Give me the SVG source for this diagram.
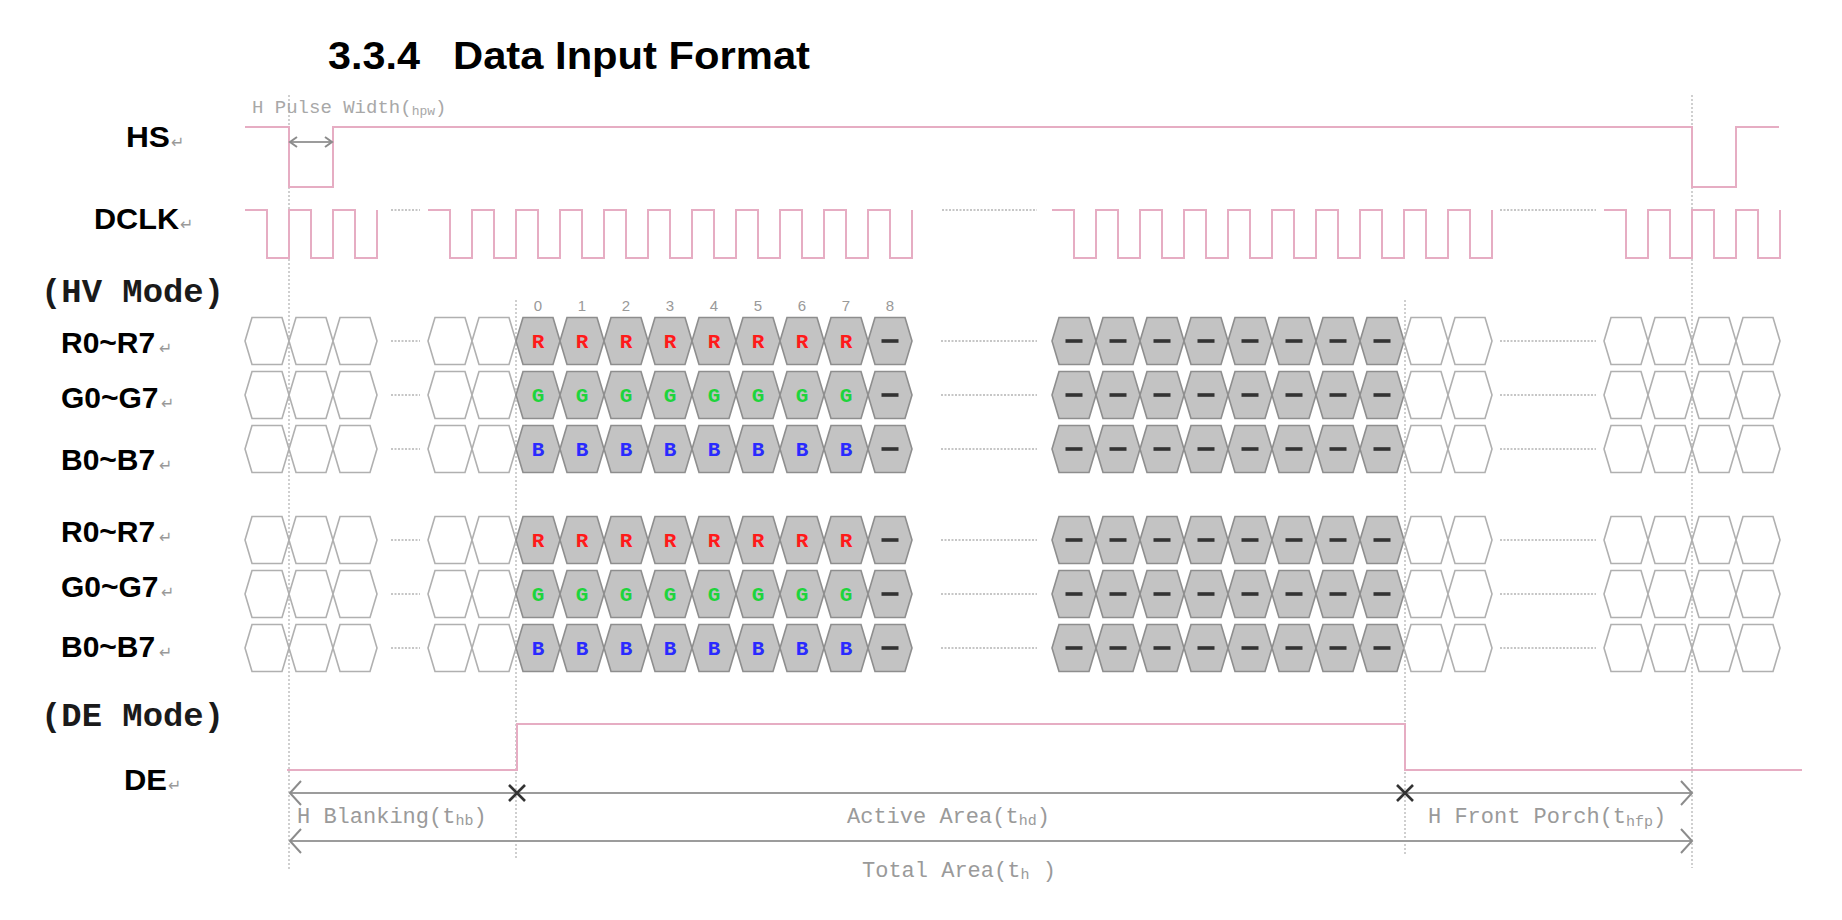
<svg xmlns="http://www.w3.org/2000/svg" width="1842" height="920" viewBox="0 0 1842 920">
<style>
.title{font-family:"Liberation Sans",Arial,sans-serif;font-weight:bold;font-size:39px;fill:#000}
.lbl{font-family:"Liberation Sans",Arial,sans-serif;font-weight:bold;font-size:30px;fill:#000}
.mode{font-family:"Liberation Mono","Courier New",monospace;font-weight:bold;font-size:33px;fill:#1a1a1a}
.ret{font-family:"DejaVu Sans",sans-serif;font-size:16px;fill:#999}
.ann{font-family:"Liberation Mono","Courier New",monospace;font-size:22px;fill:#9a9a9a}
.annS{font-family:"Liberation Mono","Courier New",monospace;font-size:19px;fill:#a8a8a8}
.num{font-family:"Liberation Sans",Arial,sans-serif;font-size:15px;fill:#999;text-anchor:middle}
.let{font-family:"Liberation Mono","Courier New",monospace;font-weight:bold;font-size:21px;text-anchor:middle}
.sig{fill:none;stroke:#e6adc3;stroke-width:2}
.dotv{fill:none;stroke:#b0b0b0;stroke-width:1.2;stroke-dasharray:2 2}
.doth{fill:none;stroke:#b4b4b4;stroke-width:1.6;stroke-dasharray:2 1.5}
.dim{fill:none;stroke:#9c9c9c;stroke-width:2}
.head{fill:none;stroke:#8c8c8c;stroke-width:2}
.xm{fill:none;stroke:#333;stroke-width:2.6}
.hw{fill:#fff;stroke:#b0b0b0;stroke-width:1.6}
.hd{fill:#c3c3c3;stroke:#8e8e8e;stroke-width:1.6}
</style>
<defs>
<path id="hex" d="M-22,0 L-15,-23.5 H15 L22,0 L15,23.5 H-15 Z"/>
<rect id="dash" x="-8.5" y="-1.8" width="17" height="3.6" fill="#333"/>
<g id="wrowL"><use href="#hex" class="hw" x="267"/><use href="#hex" class="hw" x="311"/><use href="#hex" class="hw" x="355"/><use href="#hex" class="hw" x="450"/><use href="#hex" class="hw" x="494"/></g>
<g id="drow"><use href="#hex" class="hd" x="538"/><use href="#hex" class="hd" x="582"/><use href="#hex" class="hd" x="626"/><use href="#hex" class="hd" x="670"/><use href="#hex" class="hd" x="714"/><use href="#hex" class="hd" x="758"/><use href="#hex" class="hd" x="802"/><use href="#hex" class="hd" x="846"/><use href="#hex" class="hd" x="890"/><use href="#dash" x="890"/></g>
<g id="mrow"><use href="#hex" class="hd" x="1074"/><use href="#hex" class="hd" x="1118"/><use href="#hex" class="hd" x="1162"/><use href="#hex" class="hd" x="1206"/><use href="#hex" class="hd" x="1250"/><use href="#hex" class="hd" x="1294"/><use href="#hex" class="hd" x="1338"/><use href="#hex" class="hd" x="1382"/><use href="#dash" x="1074"/><use href="#dash" x="1118"/><use href="#dash" x="1162"/><use href="#dash" x="1206"/><use href="#dash" x="1250"/><use href="#dash" x="1294"/><use href="#dash" x="1338"/><use href="#dash" x="1382"/><use href="#hex" class="hw" x="1426"/><use href="#hex" class="hw" x="1470"/><use href="#hex" class="hw" x="1626"/><use href="#hex" class="hw" x="1670"/><use href="#hex" class="hw" x="1714"/><use href="#hex" class="hw" x="1758"/></g>
<g id="gaps"><path class="doth" d="M391,0 H420 M941,0 H1037 M1500,0 H1596"/></g>
</defs>
<rect width="1842" height="920" fill="#fff"/>

<g id="title">
<text class="title" x="328" y="69" textLength="92" lengthAdjust="spacingAndGlyphs">3.3.4</text>
<text class="title" x="453" y="69" textLength="357" lengthAdjust="spacingAndGlyphs">Data Input Format</text>
</g>

<g id="guides">
<path class="dotv" d="M289,95 V870 M516,300 V860 M1405,300 V856 M1692,95 V868"/>
</g>

<g id="labels">
<text class="lbl" x="126" y="147" textLength="44" lengthAdjust="spacingAndGlyphs">HS</text><text class="ret" x="171" y="148">↵</text>
<text class="lbl" x="94" y="229" textLength="85" lengthAdjust="spacingAndGlyphs">DCLK</text><text class="ret" x="180" y="230">↵</text>
<text class="mode" x="41" y="302" textLength="183" lengthAdjust="spacingAndGlyphs">(HV Mode)</text>
<text class="lbl" x="61" y="353">R0~R7</text><text class="ret" x="159" y="354">↵</text>
<text class="lbl" x="61" y="408">G0~G7</text><text class="ret" x="161" y="409">↵</text>
<text class="lbl" x="61" y="470">B0~B7</text><text class="ret" x="159" y="471">↵</text>
<text class="lbl" x="61" y="542">R0~R7</text><text class="ret" x="159" y="543">↵</text>
<text class="lbl" x="61" y="597">G0~G7</text><text class="ret" x="161" y="598">↵</text>
<text class="lbl" x="61" y="657">B0~B7</text><text class="ret" x="159" y="658">↵</text>
<text class="mode" x="41" y="726" textLength="183" lengthAdjust="spacingAndGlyphs">(DE Mode)</text>
<text class="lbl" x="124" y="790" textLength="43" lengthAdjust="spacingAndGlyphs">DE</text><text class="ret" x="168" y="791">↵</text>
</g>

<g id="hs">
<path class="sig" d="M245,127 H289 V187 H333 V127 H1692 V187 H1736 V127 H1779"/>
<text class="annS" x="252" y="113">H Pulse Width(<tspan font-size="13" dy="2">hpw</tspan><tspan dy="-2">)</tspan></text>
<path class="dim" stroke-width="1.4" d="M290,142 H332"/>
<path class="head" stroke-width="1.4" d="M297,137 L290,142 L297,147 M325,137 L332,142 L325,147"/>
</g>

<g id="dclk">
<path class="sig" d="M245,210 H267 V258 H289 V210 H311 V258 H333 V210 H355 V258 H377 V210"/>
<path class="sig" d="M428,210 H450 V258 H472 V210 H494 V258 H516 V210 H538 V258 H560 V210 H582 V258 H604 V210 H626 V258 H648 V210 H670 V258 H692 V210 H714 V258 H736 V210 H758 V258 H780 V210 H802 V258 H824 V210 H846 V258 H868 V210 H890 V258 H912 V210"/>
<path class="sig" d="M1052,210 H1074 V258 H1096 V210 H1118 V258 H1140 V210 H1162 V258 H1184 V210 H1206 V258 H1228 V210 H1250 V258 H1272 V210 H1294 V258 H1316 V210 H1338 V258 H1360 V210 H1382 V258 H1404 V210 H1426 V258 H1448 V210 H1470 V258 H1492 V210"/>
<path class="sig" d="M1604,210 H1626 V258 H1648 V210 H1670 V258 H1692 V210 H1714 V258 H1736 V210 H1758 V258 H1780 V210"/>
<path class="doth" d="M391,210 H420 M942,210 H1037 M1500,210 H1596"/>
</g>

<g id="pixel-index">
<text class="num" x="538" y="311">0</text><text class="num" x="582" y="311">1</text><text class="num" x="626" y="311">2</text><text class="num" x="670" y="311">3</text><text class="num" x="714" y="311">4</text><text class="num" x="758" y="311">5</text><text class="num" x="802" y="311">6</text><text class="num" x="846" y="311">7</text><text class="num" x="890" y="311">8</text>
</g>

<g id="hv-r" transform="translate(0,341)">
<use href="#wrowL"/><use href="#drow"/><use href="#mrow"/><use href="#gaps"/>
<g class="let" fill="#ff1a1a"><text x="538" y="7">R</text><text x="582" y="7">R</text><text x="626" y="7">R</text><text x="670" y="7">R</text><text x="714" y="7">R</text><text x="758" y="7">R</text><text x="802" y="7">R</text><text x="846" y="7">R</text></g>
</g>
<g id="hv-g" transform="translate(0,395)">
<use href="#wrowL"/><use href="#drow"/><use href="#mrow"/><use href="#gaps"/>
<g class="let" fill="#1ed43c"><text x="538" y="7">G</text><text x="582" y="7">G</text><text x="626" y="7">G</text><text x="670" y="7">G</text><text x="714" y="7">G</text><text x="758" y="7">G</text><text x="802" y="7">G</text><text x="846" y="7">G</text></g>
</g>
<g id="hv-b" transform="translate(0,449)">
<use href="#wrowL"/><use href="#drow"/><use href="#mrow"/><use href="#gaps"/>
<g class="let" fill="#2a2aff"><text x="538" y="7">B</text><text x="582" y="7">B</text><text x="626" y="7">B</text><text x="670" y="7">B</text><text x="714" y="7">B</text><text x="758" y="7">B</text><text x="802" y="7">B</text><text x="846" y="7">B</text></g>
</g>
<g id="de-r" transform="translate(0,540)">
<use href="#wrowL"/><use href="#drow"/><use href="#mrow"/><use href="#gaps"/>
<g class="let" fill="#ff1a1a"><text x="538" y="7">R</text><text x="582" y="7">R</text><text x="626" y="7">R</text><text x="670" y="7">R</text><text x="714" y="7">R</text><text x="758" y="7">R</text><text x="802" y="7">R</text><text x="846" y="7">R</text></g>
</g>
<g id="de-g" transform="translate(0,594)">
<use href="#wrowL"/><use href="#drow"/><use href="#mrow"/><use href="#gaps"/>
<g class="let" fill="#1ed43c"><text x="538" y="7">G</text><text x="582" y="7">G</text><text x="626" y="7">G</text><text x="670" y="7">G</text><text x="714" y="7">G</text><text x="758" y="7">G</text><text x="802" y="7">G</text><text x="846" y="7">G</text></g>
</g>
<g id="de-b" transform="translate(0,648)">
<use href="#wrowL"/><use href="#drow"/><use href="#mrow"/><use href="#gaps"/>
<g class="let" fill="#2a2aff"><text x="538" y="7">B</text><text x="582" y="7">B</text><text x="626" y="7">B</text><text x="670" y="7">B</text><text x="714" y="7">B</text><text x="758" y="7">B</text><text x="802" y="7">B</text><text x="846" y="7">B</text></g>
</g>

<g id="de">
<path class="sig" d="M287,770 H517 V724 H1405 V770 H1802"/>
</g>

<g id="dimensions">
<path class="dim" d="M290,793 H1691 M290,841 H1691"/>
<path class="head" d="M301,781 L290,793 L301,805 M301,829 L290,841 L301,853 M1681,781 L1692,793 L1681,805 M1681,829 L1692,841 L1681,853"/>
<path class="xm" d="M509,785 L525,801 M525,785 L509,801 M1397,785 L1413,801 M1413,785 L1397,801"/>
<text class="ann" x="297" y="823">H Blanking(t<tspan font-size="15" dy="2">hb</tspan><tspan dy="-2">)</tspan></text>
<text class="ann" x="847" y="823">Active Area(t<tspan font-size="15" dy="2">hd</tspan><tspan dy="-2">)</tspan></text>
<text class="ann" x="1428" y="823">H Front Porch(t<tspan font-size="15" dy="3">hfp</tspan><tspan dy="-3">)</tspan></text>
<text class="ann" x="862" y="877">Total Area(t<tspan font-size="15" dy="2">h</tspan><tspan dy="-2"> )</tspan></text>
</g>
</svg>
